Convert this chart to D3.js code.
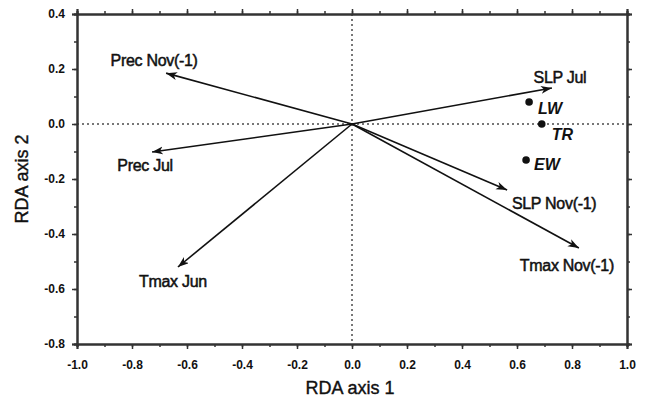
<!DOCTYPE html>
<html>
<head>
<meta charset="utf-8">
<script src="https://cdn.jsdelivr.net/npm/d3@7"></script>
<style>
  body { margin: 0; background: #fff; }
  svg { display: block; font-family: Arial, "Liberation Sans", sans-serif; }
</style>
</head>
<body>
<svg width="646" height="400"></svg>
<script>

// environmental vectors (RDA biplot)
var vectorNames = ["Prec Nov(-1)", "SLP Jul", "Prec Jul", "Tmax Jun", "SLP Nov(-1)", "Tmax Nov(-1)"];
var vectorX = [-0.676, 0.727, -0.727, -0.633, 0.564, 0.825];
var vectorY = [0.185, 0.131, -0.102, -0.520, -0.240, -0.451];

// chronologies
var siteNames = ["LW", "TR", "EW"];
var siteX = [0.644, 0.690, 0.633];
var siteY = [0.080, 0.000, -0.131];

var xTicks = [-1.0, -0.8, -0.6, -0.4, -0.2, 0.0, 0.2, 0.4, 0.6, 0.8, 1.0];
var yTicks = [-0.8, -0.6, -0.4, -0.2, 0.0, 0.2, 0.4];

// label offsets from arrow tips (px)
var vecLabelOff = [[-12, -7], [8, -5], [-7, 19], [-5, 20], [47, 19], [-12, 23]];
var siteLabelOff = [[9, 12], [10, 16], [8, 10]];

var svg = d3.select("svg"),
    pLeft = 77, pRight = 627, pTop = 14, pBottom = 344;

var x = d3.scaleLinear().domain([-1, 1]).range([pLeft, pRight]);
var y = d3.scaleLinear().domain([-0.8, 0.4]).range([pBottom, pTop]);

svg.append("defs").append("marker")
    .attr("id", "head")
    .attr("markerUnits", "userSpaceOnUse")
    .attr("markerWidth", 12)
    .attr("markerHeight", 10)
    .attr("refX", 11)
    .attr("refY", 4)
    .attr("orient", "auto")
    .append("path")
    .attr("d", "M0,0 L11,4 L0,8 L3,4 Z")
    .attr("fill", "#111");

// zero lines
svg.append("line")
    .attr("x1", pLeft).attr("x2", pRight)
    .attr("y1", y(0)).attr("y2", y(0))
    .attr("stroke", "#777").attr("stroke-width", 2)
    .attr("stroke-dasharray", "2,3");
svg.append("line")
    .attr("x1", x(0)).attr("x2", x(0))
    .attr("y1", pTop).attr("y2", pBottom)
    .attr("stroke", "#777").attr("stroke-width", 2)
    .attr("stroke-dasharray", "2,3");

var minorX = d3.range(-10, 11).map(function(i){ return i / 10; });
var minorY = d3.range(-8, 5).map(function(i){ return i / 10; });

function fmt(v){ return d3.format(".1f")(v).replace("−", "-"); }

// axes with outward ticks on all four sides
var axisColor = "#333";
svg.append("g").attr("transform", "translate(0," + pBottom + ")")
    .call(d3.axisBottom(x).tickValues(minorX).tickSize(3).tickFormat(""));
svg.append("g").attr("transform", "translate(0," + pBottom + ")")
    .call(d3.axisBottom(x).tickValues(xTicks).tickSize(5).tickPadding(11).tickFormat(fmt))
    .attr("class", "lab");
svg.append("g").attr("transform", "translate(0," + pTop + ")")
    .call(d3.axisTop(x).tickValues(minorX).tickSize(3).tickFormat(""));
svg.append("g").attr("transform", "translate(0," + pTop + ")")
    .call(d3.axisTop(x).tickValues(xTicks).tickSize(5).tickFormat(""));
svg.append("g").attr("transform", "translate(" + pLeft + ",0)")
    .call(d3.axisLeft(y).tickValues(minorY).tickSize(3).tickFormat(""));
svg.append("g").attr("transform", "translate(" + pLeft + ",0)")
    .call(d3.axisLeft(y).tickValues(yTicks).tickSize(5).tickPadding(7).tickFormat(fmt))
    .attr("class", "lab");
svg.append("g").attr("transform", "translate(" + pRight + ",0)")
    .call(d3.axisRight(y).tickValues(minorY).tickSize(3).tickFormat(""));
svg.append("g").attr("transform", "translate(" + pRight + ",0)")
    .call(d3.axisRight(y).tickValues(yTicks).tickSize(5).tickFormat(""));

svg.selectAll(".domain").attr("stroke", axisColor).attr("stroke-width", 2);
svg.selectAll(".tick line").attr("stroke", axisColor).attr("stroke-width", 1.5);
svg.selectAll(".lab text")
    .attr("font-size", 12).attr("font-weight", "bold")
    .attr("font-family", "Arial, 'Liberation Sans', sans-serif")
    .attr("fill", "#111");

// axis titles
svg.append("text")
    .attr("x", (pLeft + pRight) / 2 - 2).attr("y", 394)
    .attr("text-anchor", "middle")
    .attr("font-size", 18).attr("fill", "#111")
    .attr("stroke", "#111").attr("stroke-width", 0.4)
    .text("RDA axis 1");
svg.append("text")
    .attr("transform", "translate(28," + ((pTop + pBottom) / 2) + ") rotate(-90)")
    .attr("text-anchor", "middle")
    .attr("font-size", 18).attr("fill", "#111")
    .attr("stroke", "#111").attr("stroke-width", 0.4)
    .text("RDA axis 2");

// arrows
var g = svg.append("g");
g.selectAll("line.vec")
    .data(vectorNames)
    .enter()
    .append("line")
    .attr("class", "vec")
    .attr("x1", x(0)).attr("y1", y(0))
    .attr("x2", function(d, i){ return x(vectorX[i]); })
    .attr("y2", function(d, i){ return y(vectorY[i]); })
    .attr("stroke", "#111").attr("stroke-width", 1.6)
    .attr("marker-end", "url(#head)");

g.selectAll("text.vec")
    .data(vectorNames)
    .enter()
    .append("text")
    .attr("class", "vec")
    .attr("x", function(d, i){ return x(vectorX[i]) + vecLabelOff[i][0]; })
    .attr("y", function(d, i){ return y(vectorY[i]) + vecLabelOff[i][1]; })
    .attr("text-anchor", "middle")
    .attr("font-size", 16).attr("fill", "#111")
    .attr("stroke", "#111").attr("stroke-width", 0.5)
    .attr("letter-spacing", -0.3)
    .text(function(d){ return d; });

// site points
g.selectAll("circle")
    .data(siteNames)
    .enter()
    .append("circle")
    .attr("cx", function(d, i){ return x(siteX[i]); })
    .attr("cy", function(d, i){ return y(siteY[i]); })
    .attr("r", 3.8)
    .style("fill", "#111");

g.selectAll("text.site")
    .data(siteNames)
    .enter()
    .append("text")
    .attr("class", "site")
    .attr("x", function(d, i){ return x(siteX[i]) + siteLabelOff[i][0]; })
    .attr("y", function(d, i){ return y(siteY[i]) + siteLabelOff[i][1]; })
    .attr("font-size", 16).attr("font-weight", "bold").attr("font-style", "italic")
    .attr("fill", "#111")
    .text(function(d){ return d; });

</script>
</body>
</html>
